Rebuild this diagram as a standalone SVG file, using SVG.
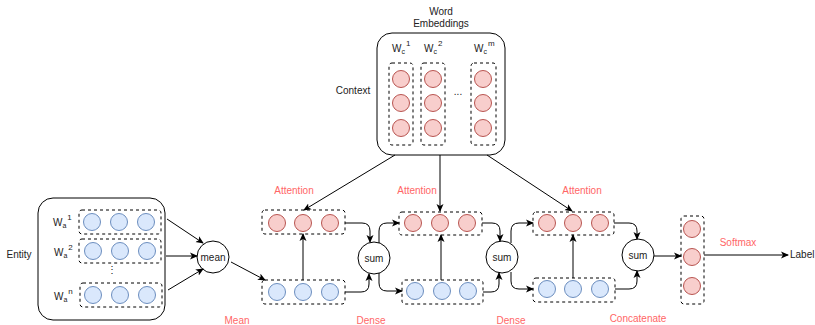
<svg xmlns="http://www.w3.org/2000/svg" width="815" height="325" viewBox="0 0 815 325">
<style>
text{font-family:"Liberation Sans",Arial,sans-serif;font-size:10px;fill:#222}
.lbl{fill:#ff6666;text-anchor:middle}
.c{text-anchor:middle}
.box{fill:#fff;stroke:#000;stroke-width:1}
.dash{fill:none;stroke:#000;stroke-width:1;stroke-dasharray:3,3}
.red{fill:#f8cecc;stroke:#b85450;stroke-width:1}
.blue{fill:#dae8fc;stroke:#6c8ebf;stroke-width:1}
.op{fill:#fff;stroke:#000;stroke-width:1}
.e{fill:none;stroke:#000;stroke-width:1;marker-end:url(#ah)}
.sub{font-size:7px}
.sup{font-size:8px}
</style>
<defs>
<marker id="ah" viewBox="0 0 8 8" refX="7" refY="4" markerWidth="8" markerHeight="8" markerUnits="userSpaceOnUse" orient="auto">
<path d="M0,0.5 L8,4 L0,7.5 L2,4 z" fill="#000"/>
</marker>
</defs>

<g id="context">
<rect class="box" x="377" y="33" width="128" height="122" rx="15"/>
<text class="c" x="441" y="15">Word</text>
<text class="c" x="441" y="27">Embeddings</text>
<text class="c" x="353" y="94">Context</text>
<text x="392" y="52">W<tspan class="sub" dy="2">c</tspan><tspan class="sup" dy="-8" dx="1">1</tspan></text>
<text x="424" y="52">W<tspan class="sub" dy="2">c</tspan><tspan class="sup" dy="-8" dx="1">2</tspan></text>
<text x="474" y="52">W<tspan class="sub" dy="2">c</tspan><tspan class="sup" dy="-8" dx="1">m</tspan></text>
<rect class="dash" x="389" y="63" width="24" height="82" rx="3"/>
<rect class="dash" x="421" y="63" width="24" height="82" rx="3"/>
<rect class="dash" x="471" y="63" width="25" height="82" rx="3"/>
<circle class="red" cx="401" cy="79" r="8.5"/><circle class="red" cx="401" cy="103" r="8.5"/><circle class="red" cx="401" cy="128" r="8.5"/>
<circle class="red" cx="433" cy="79" r="8.5"/><circle class="red" cx="433" cy="103" r="8.5"/><circle class="red" cx="433" cy="128" r="8.5"/>
<circle class="red" cx="483" cy="79" r="8.5"/><circle class="red" cx="483" cy="103" r="8.5"/><circle class="red" cx="483" cy="128" r="8.5"/>
<text class="c" x="458" y="95">...</text>
</g>

<g id="entity">
<rect class="box" x="38" y="198" width="127" height="122" rx="15"/>
<text class="c" x="19" y="258">Entity</text>
<text x="53" y="226">W<tspan class="sub" dy="2">a</tspan><tspan class="sup" dy="-8" dx="1">1</tspan></text>
<text x="54" y="256">W<tspan class="sub" dy="2">a</tspan><tspan class="sup" dy="-8" dx="1">2</tspan></text>
<text x="54" y="300">W<tspan class="sub" dy="2">a</tspan><tspan class="sup" dy="-8" dx="1">n</tspan></text>
<text class="c" x="112" y="273">⋮</text>
<rect class="dash" x="79" y="210" width="82" height="24" rx="3"/>
<rect class="dash" x="79" y="239" width="82" height="24" rx="3"/>
<rect class="dash" x="80" y="283" width="82" height="24" rx="3"/>
<circle class="blue" cx="92" cy="222" r="8.5"/><circle class="blue" cx="119" cy="222" r="8.5"/><circle class="blue" cx="146" cy="222" r="8.5"/>
<circle class="blue" cx="93" cy="251" r="8.5"/><circle class="blue" cx="120" cy="251" r="8.5"/><circle class="blue" cx="147" cy="251" r="8.5"/>
<circle class="blue" cx="93" cy="295" r="8.5"/><circle class="blue" cx="120" cy="295" r="8.5"/><circle class="blue" cx="147" cy="295" r="8.5"/>
</g>

<g id="mean">
<circle class="op" cx="213" cy="257" r="16"/>
<text class="c" x="213" y="261">mean</text>
<text class="lbl" x="237" y="324">Mean</text>
</g>

<g id="att1">
<rect class="dash" x="262" y="210" width="83" height="24" rx="3"/>
<circle class="red" cx="277" cy="223" r="8.5"/><circle class="red" cx="303" cy="223" r="8.5"/><circle class="red" cx="330" cy="223" r="8.5"/>
<text class="lbl" x="294" y="194">Attention</text>
</g>
<g id="dense1">
<rect class="dash" x="262" y="280" width="83" height="24" rx="3"/>
<circle class="blue" cx="277" cy="292" r="8.5"/><circle class="blue" cx="303" cy="292" r="8.5"/><circle class="blue" cx="330" cy="292" r="8.5"/>
<text class="lbl" x="371" y="324">Dense</text>
</g>
<g id="sum1">
<circle class="op" cx="374" cy="258" r="16"/>
<text class="c" x="374" y="262">sum</text>
</g>

<g id="att2">
<rect class="dash" x="399" y="212" width="83" height="23" rx="3"/>
<circle class="red" cx="413" cy="223" r="8.5"/><circle class="red" cx="440" cy="223" r="8.5"/><circle class="red" cx="467" cy="223" r="8.5"/>
<text class="lbl" x="417" y="194">Attention</text>
</g>
<g id="dense2">
<rect class="dash" x="402" y="280" width="81" height="24" rx="3"/>
<circle class="blue" cx="415" cy="291" r="8.5"/><circle class="blue" cx="442" cy="291" r="8.5"/><circle class="blue" cx="468" cy="291" r="8.5"/>
<text class="lbl" x="511" y="324">Dense</text>
</g>
<g id="sum2">
<circle class="op" cx="502" cy="257" r="16"/>
<text class="c" x="502" y="261">sum</text>
</g>

<g id="att3">
<rect class="dash" x="533" y="212" width="81" height="23" rx="3"/>
<circle class="red" cx="547" cy="223" r="8.5"/><circle class="red" cx="573" cy="223" r="8.5"/><circle class="red" cx="600" cy="223" r="8.5"/>
<text class="lbl" x="582" y="194">Attention</text>
</g>
<g id="dense3">
<rect class="dash" x="533" y="278" width="82" height="24" rx="3"/>
<circle class="blue" cx="547" cy="289" r="8.5"/><circle class="blue" cx="573" cy="289" r="8.5"/><circle class="blue" cx="600" cy="289" r="8.5"/>
<text class="lbl" x="638" y="322">Concatenate</text>
</g>
<g id="sum3">
<circle class="op" cx="638" cy="255" r="16"/>
<text class="c" x="638" y="259">sum</text>
</g>

<g id="softmax">
<rect class="dash" x="681" y="216" width="23" height="88" rx="3"/>
<circle class="red" cx="692" cy="229" r="8.5"/><circle class="red" cx="692" cy="257" r="8.5"/><circle class="red" cx="692" cy="286" r="8.5"/>
<text class="lbl" x="738" y="246">Softmax</text>
</g>
<g id="label">
<text x="790" y="258">Label</text>
</g>

<g id="connectors">
<path class="e" d="M167,219 L203,243"/>
<path class="e" d="M166,256 L197,256"/>
<path class="e" d="M168,290 L203,269"/>
<path class="e" d="M231,262 L265,280"/>
<path class="e" d="M303,280 V234"/>
<path class="e" d="M441,280 V235"/>
<path class="e" d="M573,278 V235"/>
<path class="e" d="M395,155 L304,210"/>
<path class="e" d="M440,155 V211"/>
<path class="e" d="M487,155 L572,211"/>
<path class="e" d="M345,223 H362 Q370,223 370,231 V242"/>
<path class="e" d="M345,292 H361 Q369,292 369,284 V274"/>
<path class="e" d="M379,243 V231 Q379,223 387,223 H399"/>
<path class="e" d="M379,273 V283 Q379,291 387,291 H402"/>
<path class="e" d="M482,223 H492 Q500,223 500,231 V241"/>
<path class="e" d="M483,292 H491 Q499,292 499,284 V273"/>
<path class="e" d="M511,243 V231 Q511,223 519,223 H533"/>
<path class="e" d="M511,272 V281 Q511,289 519,289 H533"/>
<path class="e" d="M614,223 H629 Q637,223 637,231 V239"/>
<path class="e" d="M615,289 H629 Q637,289 637,281 V271"/>
<path class="e" d="M654,256 H681"/>
<path class="e" d="M704,255 H788"/>
</g>
</svg>
